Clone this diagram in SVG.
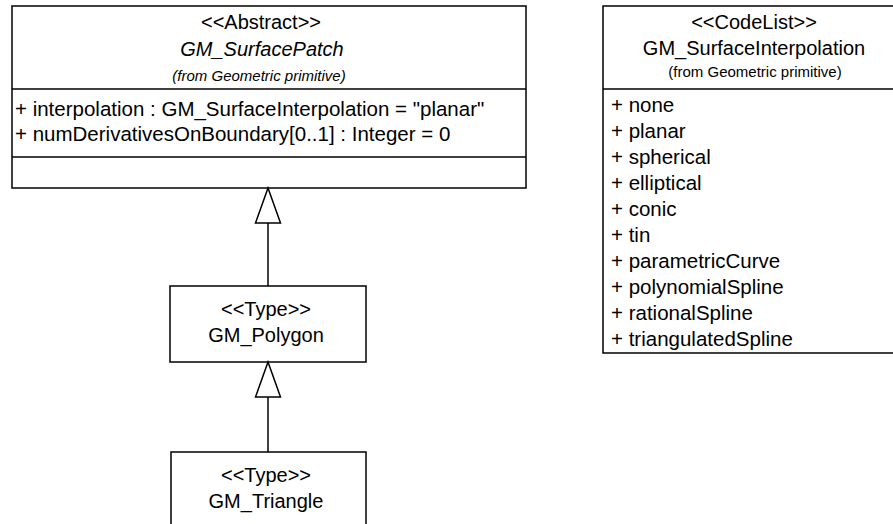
<svg xmlns="http://www.w3.org/2000/svg" width="893" height="524" viewBox="0 0 893 524">
<style>
.box{fill:#fff;stroke:#000;stroke-width:1.5}
.sep{stroke:#000;stroke-width:1.5}
text{font-family:"Liberation Sans",Arial,sans-serif;font-size:20px;fill:#000}
.c{text-anchor:middle}
.it{font-style:italic}
.small{font-size:15px}
.body{font-size:20.5px}
.edge{stroke:#000;stroke-width:1.5;fill:none}
.head{fill:#fff;stroke:#000;stroke-width:1.5}
</style>
<rect width="893" height="524" fill="#fff"/>
<g id="GM_SurfacePatch">
<rect class="box" x="12" y="6" width="514" height="182"/>
<line class="sep" x1="12" y1="89" x2="526" y2="89"/>
<line class="sep" x1="12" y1="157" x2="526" y2="157"/>
<text class="c" x="261" y="29">&lt;&lt;Abstract&gt;&gt;</text>
<text class="c it" x="262" y="56">GM_SurfacePatch</text>
<text class="c it small" x="259" y="81">(from Geometric primitive)</text>
<text class="body" x="15" y="116">+ interpolation : GM_SurfaceInterpolation = "planar"</text>
<text class="body" x="15" y="141">+ numDerivativesOnBoundary[0..1] : Integer = 0</text>
</g>
<g id="GM_SurfaceInterpolation">
<rect class="box" x="603" y="6" width="300" height="347"/>
<line class="sep" x1="603" y1="89" x2="903" y2="89"/>
<text class="c" x="754" y="29">&lt;&lt;CodeList&gt;&gt;</text>
<text class="c" x="754" y="55">GM_SurfaceInterpolation</text>
<text class="c small" x="755" y="77">(from Geometric primitive)</text>
<text class="body" x="611" y="112">+ none</text>
<text class="body" x="611" y="138">+ planar</text>
<text class="body" x="611" y="164">+ spherical</text>
<text class="body" x="611" y="190">+ elliptical</text>
<text class="body" x="611" y="216">+ conic</text>
<text class="body" x="611" y="242">+ tin</text>
<text class="body" x="611" y="268">+ parametricCurve</text>
<text class="body" x="611" y="294">+ polynomialSpline</text>
<text class="body" x="611" y="320">+ rationalSpline</text>
<text class="body" x="611" y="346">+ triangulatedSpline</text>
</g>
<g id="GM_Polygon">
<rect class="box" x="170" y="286" width="196" height="76"/>
<text class="c" x="266" y="316">&lt;&lt;Type&gt;&gt;</text>
<text class="c" x="266" y="342">GM_Polygon</text>
</g>
<g id="GM_Triangle">
<rect class="box" x="171" y="452" width="195" height="80"/>
<text class="c" x="266" y="482">&lt;&lt;Type&gt;&gt;</text>
<text class="c" x="266" y="508">GM_Triangle</text>
</g>
<g id="connectors">
<line class="edge" x1="268" y1="286" x2="268" y2="223"/>
<polygon class="head" points="268,188 255.5,223 280.5,223"/>
<line class="edge" x1="268" y1="452" x2="268" y2="397"/>
<polygon class="head" points="268,362 255.5,397 280.5,397"/>
</g>
</svg>
